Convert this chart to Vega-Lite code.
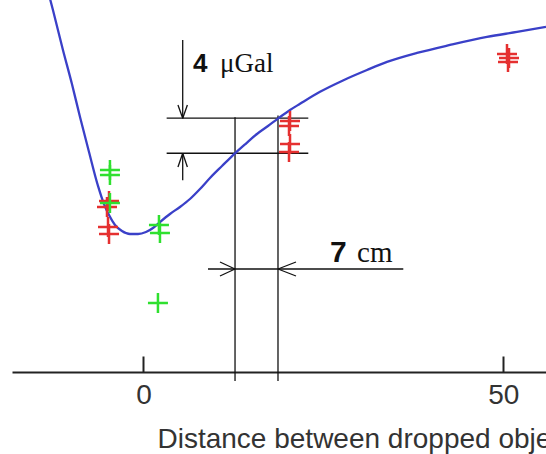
{
  "$schema": "https://vega.github.io/schema/vega-lite/v6.json",
  "width": 534,
  "height": 372,
  "autosize": {"type": "none"},
  "padding": {"left": 12, "top": 0, "right": 0, "bottom": 82},
  "background": "white",
  "config": {"view": {"stroke": null}},
  "datasets": {
    "curve": [
      {"d": -13.13, "g": 43.09}, {"d": -12.58, "g": 41.37}, {"d": -11.19, "g": 36.80},
      {"d": -9.94, "g": 32.91}, {"d": -8.82, "g": 29.14}, {"d": -7.57, "g": 25.14},
      {"d": -6.32, "g": 21.26}, {"d": -5.49, "g": 19.20}, {"d": -4.79, "g": 17.94},
      {"d": -3.96, "g": 16.80}, {"d": -2.99, "g": 16.11}, {"d": -1.88, "g": 15.77},
      {"d": -0.76, "g": 15.77}, {"d": 0.35, "g": 16.00}, {"d": 1.32, "g": 16.46},
      {"d": 2.29, "g": 17.14}, {"d": 3.68, "g": 18.06}, {"d": 5.07, "g": 18.86},
      {"d": 6.46, "g": 19.77}, {"d": 7.85, "g": 20.91}, {"d": 9.24, "g": 22.17},
      {"d": 10.91, "g": 23.54}, {"d": 12.72, "g": 24.99}, {"d": 14.24, "g": 26.11},
      {"d": 15.77, "g": 27.20}, {"d": 17.30, "g": 28.11}, {"d": 18.73, "g": 28.99},
      {"d": 20.36, "g": 29.94}, {"d": 21.75, "g": 30.65}, {"d": 24.53, "g": 32.02},
      {"d": 27.72, "g": 33.32}, {"d": 31.06, "g": 34.51}, {"d": 33.84, "g": 35.43},
      {"d": 38.01, "g": 36.46}, {"d": 42.59, "g": 37.37}, {"d": 47.73, "g": 38.29},
      {"d": 51.90, "g": 38.86}, {"d": 55.93, "g": 39.43}
    ],
    "red": [
      {"d": -4.79, "g": 19.54}, {"d": -5.07, "g": 18.86}, {"d": -4.93, "g": 16.57}, {"d": -4.79, "g": 15.77},
      {"d": 20.36, "g": 28.69}, {"d": 20.22, "g": 28.11}, {"d": 20.36, "g": 26.06}, {"d": 20.22, "g": 25.14},
      {"d": 50.51, "g": 36.34}, {"d": 50.79, "g": 35.89}, {"d": 50.65, "g": 35.43}
    ],
    "green": [
      {"d": -4.66, "g": 23.09}, {"d": -4.66, "g": 22.51}, {"d": -4.66, "g": 19.31},
      {"d": 2.15, "g": 16.80}, {"d": 2.29, "g": 15.89}, {"d": 2.01, "g": 7.89}
    ],
    "segments": [
      {"x": 12.72, "x2": 12.72, "y": 29.1, "y2": -1.03},
      {"x": 18.69, "x2": 18.69, "y": 29.3, "y2": -1.03},
      {"x": 3.22, "x2": 22.9, "y": 29.0, "y2": 29.0},
      {"x": 3.22, "x2": 22.9, "y": 25.0, "y2": 25.0},
      {"x": 5.45, "x2": 5.45, "y": 37.94, "y2": 29.0},
      {"x": 5.45, "x2": 5.45, "y": 25.0, "y2": 21.9},
      {"x": 4.79, "x2": 5.45, "y": 30.51, "y2": 29.0},
      {"x": 6.1, "x2": 5.45, "y": 30.51, "y2": 29.0},
      {"x": 4.79, "x2": 5.45, "y": 23.43, "y2": 25.0},
      {"x": 6.1, "x2": 5.45, "y": 23.43, "y2": 25.0},
      {"x": 8.96, "x2": 36.1, "y": 11.77, "y2": 11.77},
      {"x": 10.63, "x2": 12.72, "y": 12.57, "y2": 11.77},
      {"x": 10.63, "x2": 12.72, "y": 10.97, "y2": 11.77},
      {"x": 21.19, "x2": 18.69, "y": 12.57, "y2": 11.77},
      {"x": 21.19, "x2": 18.69, "y": 10.97, "y2": 11.77}
    ]
  },
  "layer": [
    {
      "data": {"name": "segments"},
      "mark": {"type": "rule", "color": "#111111", "strokeWidth": 1.3},
      "encoding": {
        "x": {"field": "x", "type": "quantitative", "scale": {"domain": [-18.27, 55.93], "nice": false, "zero": false},
          "axis": {
            "values": [0, 50], "grid": false,
            "domainColor": "#222222", "domainWidth": 2,
            "tickColor": "#222222", "tickWidth": 2, "tickSize": -16,
            "labelFont": "Liberation Sans", "labelFontSize": 28, "labelColor": "#333333",
            "labelBaseline": "alphabetic", "labelPadding": 47, "labelDx": -3,
            "title": "Distance between dropped objects (cm)",
            "titleFont": "Liberation Sans", "titleFontSize": 28, "titleFontWeight": "normal", "titleColor": "#333333",
            "titleAlign": "left", "titleAnchor": "start", "titleBaseline": "alphabetic", "titleX": 145, "titleY": 75
          }},
        "x2": {"field": "x2"},
        "y": {"field": "y", "type": "quantitative", "scale": {"domain": [0, 42.51], "nice": false, "zero": false}, "axis": null},
        "y2": {"field": "y2"}
      }
    },
    {
      "data": {"name": "curve"},
      "mark": {"type": "line", "color": "#3a40c8", "strokeWidth": 2.3, "clip": true, "interpolate": "monotone"},
      "encoding": {
        "x": {"field": "d", "type": "quantitative"},
        "y": {"field": "g", "type": "quantitative"}
      }
    },
    {
      "data": {"name": "red"},
      "mark": {"type": "point", "shape": "M-1,0L1,0M0,-1L0,1", "size": 400, "filled": false, "color": "#e53030", "strokeWidth": 2.5, "opacity": 1},
      "encoding": {
        "x": {"field": "d", "type": "quantitative"},
        "y": {"field": "g", "type": "quantitative"}
      }
    },
    {
      "data": {"name": "green"},
      "mark": {"type": "point", "shape": "M-1,0L1,0M0,-1L0,1", "size": 400, "filled": false, "color": "#2fe02f", "strokeWidth": 2.5, "opacity": 1},
      "encoding": {
        "x": {"field": "d", "type": "quantitative"},
        "y": {"field": "g", "type": "quantitative"}
      }
    },
    {
      "data": {"values": [{"d": 6.88, "g": 34.29, "t": "4"}]},
      "mark": {"type": "text", "font": "Liberation Sans", "fontWeight": "bold", "fontSize": 26, "align": "left", "baseline": "alphabetic", "color": "#111111"},
      "encoding": {"x": {"field": "d", "type": "quantitative"}, "y": {"field": "g", "type": "quantitative"}, "text": {"field": "t"}}
    },
    {
      "data": {"values": [{"d": 10.63, "g": 34.29, "t": "μGal"}]},
      "mark": {"type": "text", "font": "Liberation Serif", "fontSize": 27, "align": "left", "baseline": "alphabetic", "color": "#111111"},
      "encoding": {"x": {"field": "d", "type": "quantitative"}, "y": {"field": "g", "type": "quantitative"}, "text": {"field": "t"}}
    },
    {
      "data": {"values": [{"d": 25.92, "g": 12.57, "t": "7"}]},
      "mark": {"type": "text", "font": "Liberation Sans", "fontWeight": "bold", "fontSize": 30, "align": "left", "baseline": "alphabetic", "color": "#111111"},
      "encoding": {"x": {"field": "d", "type": "quantitative"}, "y": {"field": "g", "type": "quantitative"}, "text": {"field": "t"}}
    },
    {
      "data": {"values": [{"d": 29.67, "g": 12.57, "t": "cm"}]},
      "mark": {"type": "text", "font": "Liberation Serif", "fontSize": 29, "align": "left", "baseline": "alphabetic", "color": "#111111"},
      "encoding": {"x": {"field": "d", "type": "quantitative"}, "y": {"field": "g", "type": "quantitative"}, "text": {"field": "t"}}
    }
  ]
}
